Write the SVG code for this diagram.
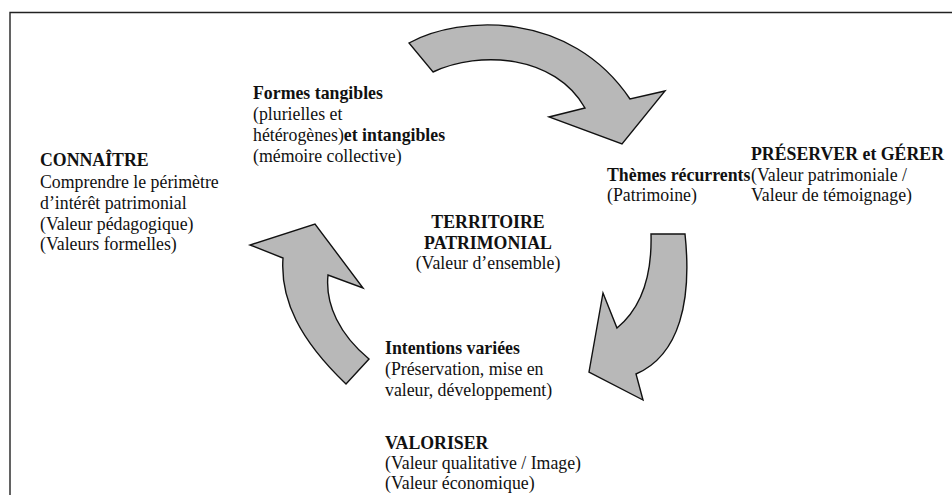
<svg xmlns="http://www.w3.org/2000/svg" width="952" height="495" viewBox="0 0 952 495">
<style>
text{font-family:'Liberation Serif','Times New Roman',serif;font-size:17.8px;fill:#111}
.b{font-weight:bold}
.arrow{fill:#b8b8b8;stroke:#111;stroke-width:1.4;stroke-linejoin:miter}
</style>
<rect width="952" height="495" fill="#fff"/>
<path d="M10,495 V12.5 H952" fill="none" stroke="#222" stroke-width="1.4"/>
<g id="connectors">
<path class="arrow" d="M409,43 C460,15 570,10 630,99 L665,91 L622,144 L549,117 L585,108 C555,55 480,50 433,72 Z"/>
<path class="arrow" d="M685,234 C692,300 680,355 636,374 L643,400 L589,372 L603,293 L617,328 C645,305 652,270 651,234 Z"/>
<path class="arrow" d="M346,384 C300,340 280,300 283,258 L250,245 L315,224 L363,288 L328,275 C325,305 340,335 369,359 Z"/>
</g>
<g id="connaitre">
<text x="40" y="166" class="b">CONNAÎTRE</text>
<text x="40" y="188">Comprendre le périmètre</text>
<text x="40" y="209">d’intérêt patrimonial</text>
<text x="40" y="230">(Valeur pédagogique)</text>
<text x="40" y="250">(Valeurs formelles)</text>
</g>
<g id="formes">
<text x="253" y="99" class="b">Formes tangibles</text>
<text x="253" y="120">(plurielles et</text>
<text x="253" y="141">hétérogènes)<tspan class="b">et intangibles</tspan></text>
<text x="253" y="162">(mémoire collective)</text>
</g>
<g id="themes">
<text x="607" y="181" class="b">Thèmes récurrents</text>
<text x="607" y="201">(Patrimoine)</text>
</g>
<g id="preserver">
<text x="751" y="160" class="b">PRÉSERVER et GÉRER</text>
<text x="751" y="181">(Valeur patrimoniale /</text>
<text x="751" y="201">Valeur de témoignage)</text>
</g>
<g id="territoire">
<text x="488" y="228" class="b" text-anchor="middle">TERRITOIRE</text>
<text x="488" y="249" class="b" text-anchor="middle">PATRIMONIAL</text>
<text x="488" y="269" text-anchor="middle">(Valeur d’ensemble)</text>
</g>
<g id="intentions">
<text x="385" y="354" class="b">Intentions variées</text>
<text x="385" y="375">(Préservation, mise en</text>
<text x="385" y="396">valeur, développement)</text>
</g>
<g id="valoriser">
<text x="385" y="449" class="b">VALORISER</text>
<text x="385" y="469">(Valeur qualitative / Image)</text>
<text x="385" y="489">(Valeur économique)</text>
</g>
</svg>
